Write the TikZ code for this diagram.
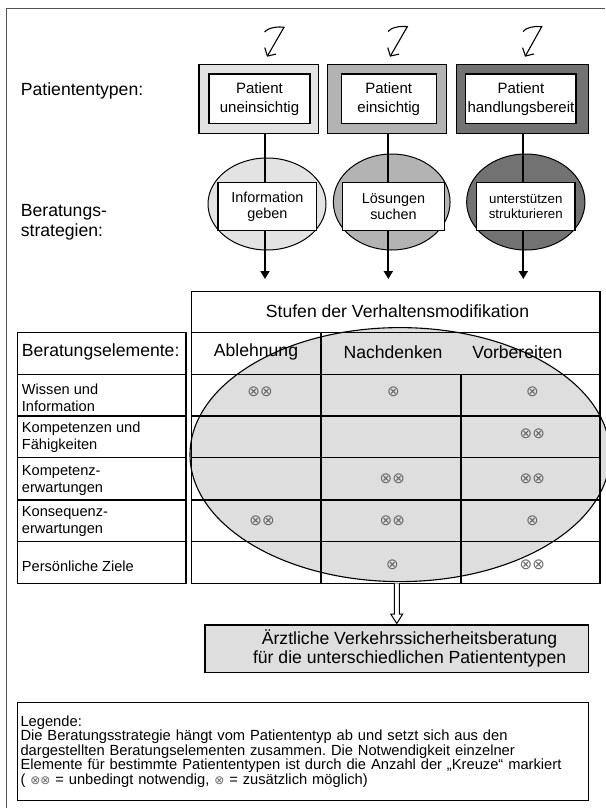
\documentclass[tikz,border=0pt]{standalone}
\usepackage{fontspec}
\setmainfont{Liberation Sans}
\newfontfamily\kreuzfont{DejaVu Sans}
\usetikzlibrary{arrows.meta,shapes.geometric}
\frenchspacing
\definecolor{typA}{HTML}{E3E3E3}
\definecolor{typB}{HTML}{B3B3B3}
\definecolor{typC}{HTML}{727272}
\definecolor{zone}{HTML}{DEDEDE}
\definecolor{kreuzgray}{HTML}{666666}
\definecolor{rahmen}{HTML}{555555}
\newcommand{\fbig}{\fontsize{17.6}{19.5}\selectfont}
\newcommand{\fmid}{\fontsize{15}{19}\selectfont}
\newcommand{\fsmall}{\fontsize{14.4}{15.5}\selectfont}
\newcommand{\fsmaller}{\fontsize{13.3}{14.5}\selectfont}
\newcommand{\frow}{\fontsize{14.6}{16.7}\selectfont}
\newcommand{\fleg}{\fontsize{14.7}{14.6}\selectfont}
\newcommand{\lkreuz}[1]{{\color{kreuzgray}\kreuzfont\fontsize{12}{12}\selectfont #1}}
\begin{document}
\begin{tikzpicture}[x=1pt,y=-1pt,
  typbox/.style={draw,line width=1.3pt,inner sep=0pt,minimum height=69},
  typin/.style={draw,fill=white,line width=1.2pt,inner sep=0pt,align=center,font=\fmid,minimum height=49.3},
  strat/.style={ellipse,draw,line width=1pt,inner sep=0pt},
  stratin/.style={draw,fill=white,line width=1.2pt,inner sep=0pt,align=center,font=\fsmall,minimum height=48},
  conn/.style={line width=1.8pt,-{Triangle[length=8pt,width=9pt]}},
  squig/.style={line width=1.1pt,-{Straight Barb[length=6pt,width=13pt]}},
  grid/.style={line width=1.4pt},
  lbl/.style={anchor=west,inner sep=0pt,align=left},
  kreuz/.style={inner sep=0pt,text=kreuzgray,font=\kreuzfont\fontsize{15}{15}\selectfont}]
\useasboundingbox (0,0) rectangle (605,808);
% frame
\draw[rahmen,line width=1.2pt] (6.7,808) -- (6.7,8.3) -- (605,8.3);

% hand drawn arrows
\coordinate (z1) at (264.5,32);
\coordinate (z2) at (388,31.5);
\coordinate (z3) at (523,31.5);
\draw[squig] (z1) .. controls +(3,-4) and +(-7,-1) .. ++(19.5,-4.7) -- ++(-17,29.4);
\draw[squig] (z2) .. controls +(3,-4) and +(-7,-1) .. ++(19.3,-4.8) -- ++(-17.3,30);
\draw[squig] (z3) .. controls +(3,-4) and +(-7,-1) .. ++(18.7,-4.8) -- ++(-16.7,30);

% patient types
\node[lbl,font=\fbig] (ltyp) at (20.7,91) {Patiententypen:};
\node[typbox,fill=typA,minimum width=119.3] (t1) at (258.7,98.8) {};
\node[typin,minimum width=101] (t1i) at (259.5,98.7) {Patient\\uneinsichtig};
\node[typbox,fill=typB,minimum width=119.4] (t2) at (387,98.8) {};
\node[typin,minimum width=95] (t2i) at (388.7,98.7) {Patient\\einsichtig};
\node[typbox,fill=typC,minimum width=131.6] (t3) at (522.5,98.8) {};
\node[typin,minimum width=110.3] (t3i) at (520.9,98.7) {Patient\\handlungsbereit};

% strategies
\node[lbl,font=\fbig] (lstrat) at (20.7,222.5) {Beratungs-\\strategien:};
\node[strat,fill=typA,minimum width=118,minimum height=92] (s1) at (267,204) {};
\node[strat,fill=typB,minimum width=116.7,minimum height=96] (s2) at (391.7,202) {};
\node[strat,fill=typC,minimum width=118.3,minimum height=96] (s3) at (525.8,202) {};
\coordinate (a1) at (265,279);
\coordinate (a2) at (388.3,279);
\coordinate (a3) at (523.3,279);
\draw[conn] (a1 |- t1.south) -- (a1);
\draw[conn] (a2 |- t2.south) -- (a2);
\draw[conn] (a3 |- t3.south) -- (a3);
\node[stratin,minimum width=98.7] (s1i) at (267.3,206.7) {Information\\geben};
\node[stratin,minimum width=101.6] (s2i) at (393.5,206.7) {Lösungen\\suchen};
\node[stratin,minimum width=98.3,font=\fsmaller] (s3i) at (525.8,206.7) {unterstützen\\strukturieren};

% table
\node[ellipse,fill=zone,minimum width=420,minimum height=254,inner sep=0pt] (zone) at (400,454.6) {};
\draw[grid] (191.7,291.7) rectangle (600,583.3);
\draw[grid] (191.7,332.3) -- (600,332.3);
\draw[grid] (17.3,332.3) rectangle (186,583.3);
\foreach \y in {374.3,416,457.7,500,541.7}{
  \draw[grid] (17.3,\y) -- (186,\y);
  \draw[grid] (191.7,\y) -- (600,\y);
}
\draw[grid] (321,332.3) -- (321,583.3);
\draw[grid] (461,374.3) -- (461,583.3);

\node[font=\fbig] (stufen) at (397.5,311.7) {Stufen der Verhaltensmodifikation};
\node[lbl,font=\fbig] (elem) at (21.7,352) {Beratungselemente:};
\node[font=\fbig] (st1) at (256,352) {Ablehnung};
\node[font=\fbig] (st2) at (393,352) {Nachdenken};
\node[font=\fbig] (st3) at (517.5,352) {Vorbereiten};

\node[lbl,font=\frow] (e1) at (21.7,397.5) {Wissen und\\Information};
\node[lbl,font=\frow] (e2) at (21.7,437.5) {Kompetenzen und\\Fähigkeiten};
\node[lbl,font=\frow] (e3) at (21.7,480.5) {Kompetenz-\\erwartungen};
\node[lbl,font=\frow] (e4) at (21.7,521.7) {Konsequenz-\\erwartungen};
\node[lbl,font=\frow] (e5) at (21.7,566.7) {Persönliche Ziele};

% crosses
\node[kreuz] (k11) at (260,391.7) {⊗⊗};
\node[kreuz] (k12) at (393.3,391.7) {⊗};
\node[kreuz] (k13) at (532.3,391.7) {⊗};
\node[kreuz] (k23) at (532.3,434) {⊗⊗};
\node[kreuz] (k32) at (392.3,478.3) {⊗⊗};
\node[kreuz] (k33) at (532.3,478.3) {⊗⊗};
\node[kreuz] (k41) at (262,521) {⊗⊗};
\node[kreuz] (k42) at (392.3,521) {⊗⊗};
\node[kreuz] (k43) at (532.3,521) {⊗};
\node[kreuz] (k52) at (392.3,565) {⊗};
\node[kreuz] (k53) at (532.3,565) {⊗⊗};

\draw[line width=1.1pt] (zone.center) ellipse (210 and 127);

% result
\node[draw,fill=zone,line width=1.2pt,minimum width=383.3,minimum height=47.3,inner sep=0pt,align=center,font=\fbig] (advice) at (396.6,648.6) {\hspace*{26pt}Ärztliche Verkehrssicherheitsberatung\\\hspace*{26pt}für die unterschiedlichen Patiententypen};
\coordinate (dtop) at (396.8,583.3);
\coordinate (dtip) at (396.8,623.5);
\draw[line width=1pt,fill=white] ([xshift=-2.5pt]dtop) -- ++(0,30.7) -- ++(-3.6,0) -- (dtip) -- ++(5.9,-9.5) -- ++(-3.4,0) -- ([xshift=2.5pt]dtop);

% legend
\node[draw,line width=1.1pt,anchor=north west,inner xsep=2.7pt,inner ysep=0pt,text width=565.6pt,minimum height=98.3,align=left,font=\fleg] (leg) at (17.3,701.7) {Legende:\\Die Beratungsstrategie hängt vom Patiententyp ab und setzt sich aus den\\dargestellten Beratungselementen zusammen. Die Notwendigkeit einzelner\\Elemente für bestimmte Patiententypen ist durch die Anzahl der „Kreuze“ markiert\\( \lkreuz{⊗⊗} = unbedingt notwendig, \lkreuz{⊗} = zusätzlich möglich)};
\end{tikzpicture}
\end{document}
